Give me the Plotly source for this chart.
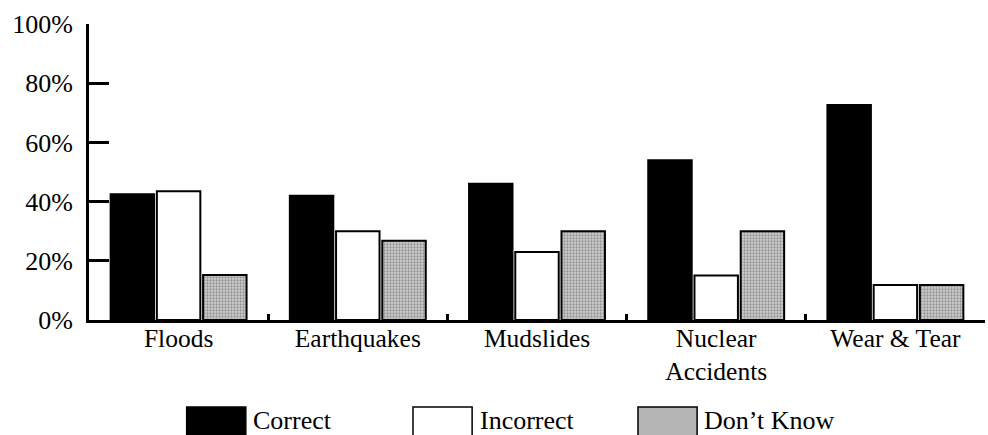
import plotly.graph_objects as go

categories = ["Floods", "Earthquakes", "Mudslides", "Nuclear<br>Accidents", "Wear & Tear"]
series_names = ["Correct", "Incorrect", "Don\u2019t Know"]
correct = [42.5, 42, 46, 54, 72.6]
incorrect = [43.5, 30, 23, 15, 11.8]
dont_know = [15.2, 26.8, 30, 30, 11.8]
y_ticks = [0, 20, 40, 60, 80, 100]

FONT = "Liberation Serif, Times New Roman, serif"

styles = [
    dict(color="black", line=dict(color="black", width=2)),
    dict(color="white", line=dict(color="black", width=2)),
    dict(color="#b8b8b8", line=dict(color="black", width=2),
         pattern=dict(shape=".", fgcolor="#555555", bgcolor="#cfcfcf", size=3, solidity=0.45)),
]
legend_fills = ["black", "white", "#b4b4b4"]

fig = go.Figure()
for name, vals, st in zip(series_names, [correct, incorrect, dont_know], styles):
    fig.add_trace(go.Bar(x=categories, y=vals, name=name, marker=st, showlegend=False,
                         hoverinfo="skip"))

fig.update_layout(
    width=988, height=435,
    margin=dict(l=89, r=3, t=24, b=115, autoexpand=False),
    paper_bgcolor="white", plot_bgcolor="white",
    barmode="group", bargap=0.226, bargroupgap=0.06,
    font=dict(family=FONT, size=25, color="black"),
)
fig.update_xaxes(
    type="category", showline=True, linecolor="black", linewidth=3,
    ticks="inside", tickson="boundaries", ticklen=6, tickwidth=3, tickcolor="black",
    showgrid=False, tickfont=dict(size=25.5), ticklabelstandoff=-7, automargin=False,
)
fig.update_yaxes(
    range=[0, 100], tickvals=y_ticks, ticktext=[f"{v}%" for v in y_ticks],
    showline=True, linecolor="black", linewidth=3,
    ticks="inside", ticklen=20, tickwidth=3, tickcolor="black",
    showgrid=False, zeroline=False, tickfont=dict(size=26), ticklabelstandoff=8,
    automargin=False,
)

# Legend drawn below the plot with large swatches
sw_x = [0.109, 0.3616, 0.6127]
sw_w = 0.066
for name, fill, x0 in zip(series_names, legend_fills, sw_x):
    fig.add_shape(type="rect", xref="paper", yref="paper", x0=x0, x1=x0 + sw_w, y0=-0.42, y1=-0.294,
                  line=dict(color="black", width=1.5), fillcolor=fill, layer="above")
    fig.add_annotation(text=name, xref="paper", yref="paper", x=x0 + sw_w + 0.006, y=-0.341,
                       xanchor="left", yanchor="middle", showarrow=False,
                       font=dict(family=FONT, size=26, color="black"))

fig.write_html("out.html", config={"displayModeBar": False, "staticPlot": True},
               post_script="document.body.style.margin='0px';")
